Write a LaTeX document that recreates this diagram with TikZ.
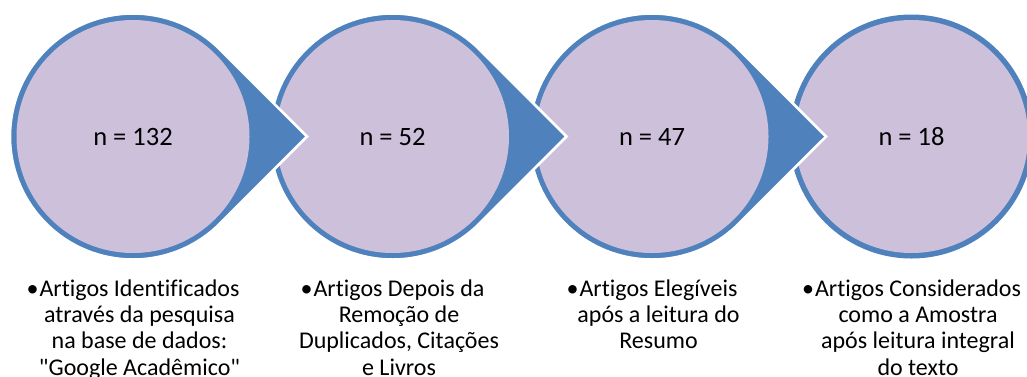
\documentclass[tikz,border=0pt]{standalone}
\usepackage{fontspec}
\setmainfont{Carlito}[Ligatures={TeXOff,NoCommon}]
\usetikzlibrary{positioning}
\definecolor{ringblue}{RGB}{79,129,189}
\definecolor{discfill}{RGB}{204,192,218}
\tikzset{
  arrowdisc/.pic={
    \filldraw[fill=ringblue,draw=white,line width=2.5] (45:123) arc[start angle=45,end angle=315,radius=123] -- (0:174) -- cycle;
  },
  lastdisc/.pic={
    \fill[ringblue] (0,0) circle[radius=122];
  }
}

\begin{document}
\begin{tikzpicture}[x=1pt,y=1pt,disc/.style={circle,fill=discfill,minimum size=233,inner sep=0pt,font=\fontsize{26.5}{28}\selectfont},caption/.style={anchor=base,align=center,font=\fontsize{24}{26.2}\selectfont}]
  \useasboundingbox (0,0) rectangle (1027,-376);
  \clip (0,0) rectangle (1027,-376);
  %right to left, each arrow lies over the next disc
  \pic at (911.5,-136.5) {lastdisc};
  \node[disc] (d4) at (911.5,-136.5) {n = 18};
  \pic at (652,-136.5) {arrowdisc};
  \node[disc] (d3) at (652,-136.5) {n = 47};
  \pic at (392.5,-136.5) {arrowdisc};
  \node[disc] (d2) at (392.5,-136.5) {n = 52};
  \pic at (133,-136.5) {arrowdisc};
  \node[disc] (d1) at (133,-136.5) {n = 132};

  %captions (base = last line)
  \node[caption] (t1) at (139.5,-375) {\llap{•\kern1pt}Artigos Identificados\\através da pesquisa\\na base de dados:\\"Google Acadêmico"};
  \node[caption] (t2) at (399,-375) {\llap{•\kern1pt}Artigos Depois da\\Remoção de\\Duplicados, Citações\\e Livros};
  \node[caption] (t3) at (658.5,-348.8) {\llap{•\kern1pt}Artigos Elegíveis\\após a leitura do\\Resumo};
  \node[caption] (t4) at (918,-375) {\llap{•\kern1pt}Artigos Considerados\\como a Amostra\\após leitura integral\\do texto};
\end{tikzpicture}
\end{document}
